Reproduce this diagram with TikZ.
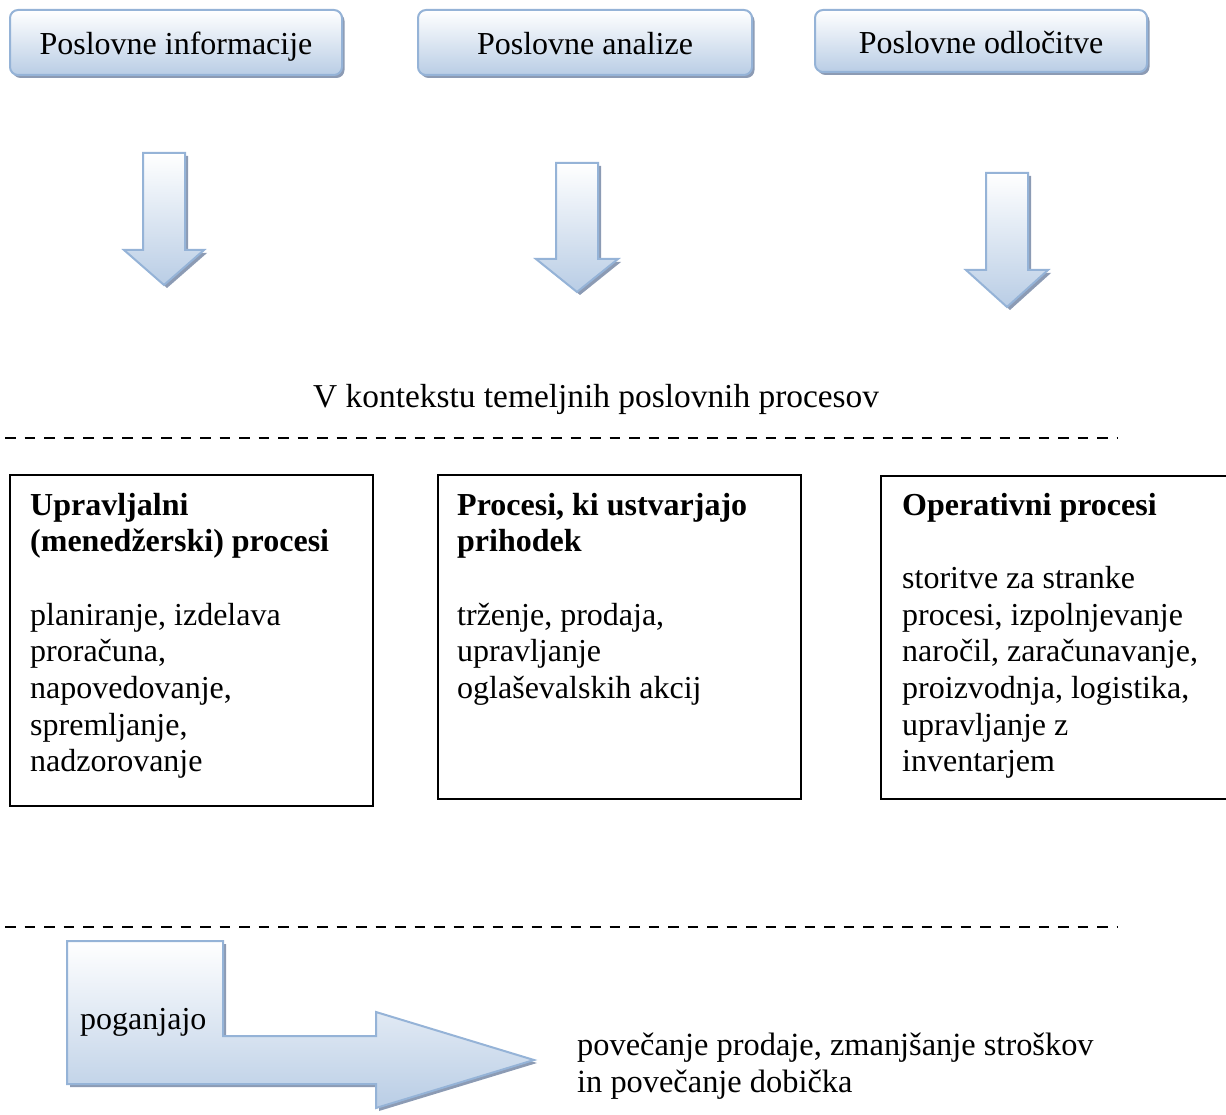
\documentclass[tikz,border=0pt]{standalone}
\usepackage{fontspec}
\setmainfont{Liberation Serif}
\usetikzlibrary{shadows}
\definecolor{bordblue}{RGB}{149,179,215}
\definecolor{fillblue}{RGB}{185,205,229}
\definecolor{shadowgray}{RGB}{140,155,180}
\tikzset{
  txt/.style={font=\fontsize{32}{36.7}\selectfont, inner sep=0pt},
  topbox/.style={draw=bordblue, line width=2pt, rounded corners=8pt,
    top color=white, bottom color=fillblue, minimum width=332pt, minimum height=65pt,
    inner sep=0pt, text height=25pt, text depth=0pt,
    font=\fontsize{32}{36.7}\selectfont,
    drop shadow={shadow xshift=2.5pt, shadow yshift=-3pt, fill=shadowgray, opacity=1}},
  blockarrow/.style={draw=bordblue, line width=2pt, top color=white, bottom color=fillblue,
    drop shadow={shadow xshift=3pt, shadow yshift=-3pt, fill=shadowgray, opacity=1}},
  procbox/.style={draw=black, line width=1.6pt, inner sep=0pt, anchor=north west},
  dashline/.style={draw=black, line width=1.8pt, dash pattern=on 10.5pt off 9pt}
}
\begin{document}
\begin{tikzpicture}[x=1pt, y=-1pt]
\path[use as bounding box] (0,0) rectangle (1226,1115);
\clip (0,0) rectangle (1226,1115);

% top boxes
\node[topbox] (p1) at (176,42.5) {Poslovne informacije};
\node[topbox, minimum width=334pt] (p2) at (585,42.5) {Poslovne analize};
\node[topbox, minimum height=62pt] (p3) at (981,41) {Poslovne odločitve};

% down arrows
\path[blockarrow] (143,153) -- (185,153) -- (185,250) -- (204,250) -- (164,285) -- (124,250) -- (143,250) -- cycle;
\path[blockarrow] (556,163) -- (598,163) -- (598,259) -- (618,259) -- (577,292) -- (536,259) -- (556,259) -- cycle;
\path[blockarrow] (986,173) -- (1028,173) -- (1028,270) -- (1048,270) -- (1007,307) -- (966,270) -- (986,270) -- cycle;

% context text
\node[txt, font=\fontsize{33.4}{38}\selectfont, anchor=base west] (ctx) at (313,407) {V kontekstu temeljnih poslovnih procesov};

% dashed lines
\coordinate (d1a) at (5,438);
\coordinate (d1b) at (1118,438);
\draw[dashline] (d1a) -- (d1b);
\coordinate (d2a) at (5,927);
\coordinate (d2b) at (1118,927);
\draw[dashline] (d2a) -- (d2b);

% process boxes
\node[procbox, minimum width=363pt, minimum height=331pt] (b1) at (9,474) {};
\node[procbox, minimum width=363pt, minimum height=324pt] (b2) at (437,474) {};
\node[procbox, minimum width=360pt, minimum height=323pt] (b3) at (880,475) {};

\node[txt, anchor=base west] (t1) at (30,515) {\parbox[t]{340pt}{\raggedright
\textbf{Upravljalni}\\
\textbf{(menedžerski) procesi}\\[36.7pt]
planiranje, izdelava\\
proračuna,\\
napovedovanje,\\
spremljanje,\\
nadzorovanje}};

\node[txt, anchor=base west] (t2) at (457,515) {\parbox[t]{340pt}{\raggedright
\textbf{Procesi, ki ustvarjajo}\\
\textbf{prihodek}\\[36.7pt]
trženje, prodaja,\\
upravljanje\\
oglaševalskih akcij}};

\node[txt, anchor=base west] (t3) at (902,515) {\parbox[t]{340pt}{\raggedright
\textbf{Operativni procesi}\\[36.7pt]
storitve za stranke\\
procesi, izpolnjevanje\\
naročil, zaračunavanje,\\
proizvodnja, logistika,\\
upravljanje z\\
inventarjem}};

% bent arrow
\path[blockarrow] (67,941) -- (223,941) -- (223,1036) -- (376,1036) -- (376,1012) -- (534,1060) -- (376,1108) -- (376,1084) -- (67,1084) -- cycle;
\node[txt, anchor=base west] (pog) at (80,1029) {poganjajo};

% result text
\node[txt, font=\fontsize{32.4}{37.5}\selectfont, anchor=base west] (res) at (577,1055) {\parbox[t]{600pt}{\raggedright
povečanje prodaje, zmanjšanje stroškov\\
in povečanje dobička}};
\end{tikzpicture}
\end{document}
